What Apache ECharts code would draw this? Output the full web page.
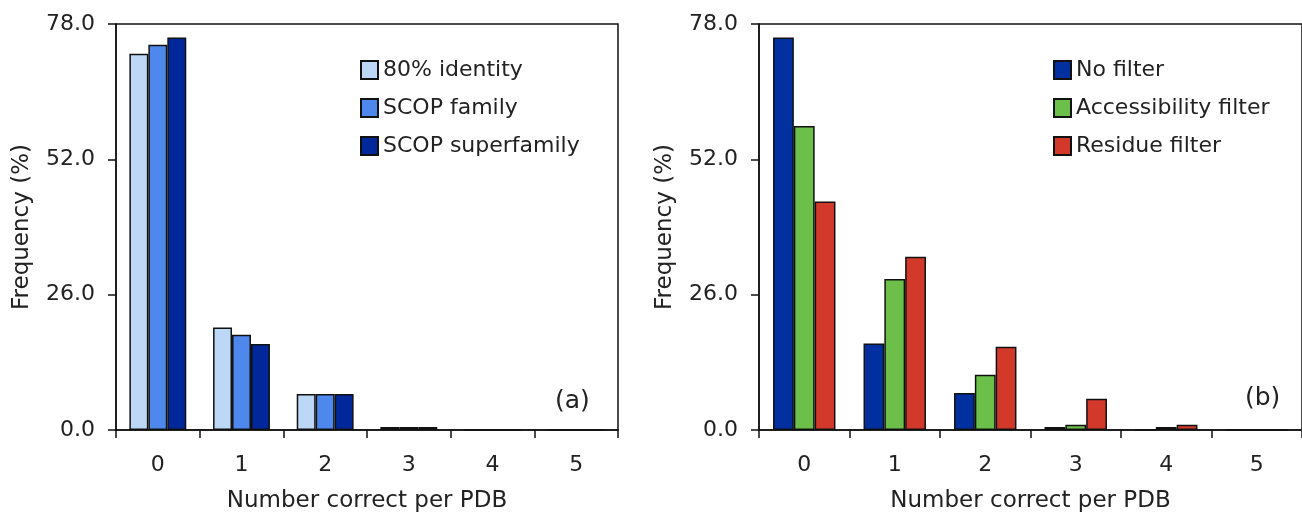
<!DOCTYPE html>
<html>
<head>
<meta charset="utf-8">
<script src="https://cdn.jsdelivr.net/npm/echarts@6/dist/echarts.min.js"></script>
<style>html,body{margin:0;padding:0;background:#fff}#c{width:1302px;height:518px}</style>
</head>
<body>
<div id="c"></div>
<script>
const categories = ['0', '1', '2', '3', '4', '5'];
const yTicks = [0, 26, 52, 78];

const namesA = ['80% identity', 'SCOP family', 'SCOP superfamily'];
const identity80 = [72.3, 19.7, 6.9, 0.6, 0, 0];
const scopFamily = [74.0, 18.3, 6.9, 0.6, 0, 0];
const scopSuperfamily = [75.4, 16.5, 6.9, 0.6, 0, 0];

const namesB = ['No filter', 'Accessibility filter', 'Residue filter'];
const noFilter = [75.4, 16.6, 7.1, 0.6, 0, 0];
const accessibilityFilter = [58.4, 29.0, 10.6, 1.0, 0.6, 0];
const residueFilter = [43.9, 33.3, 16.0, 6.0, 1.0, 0];

const colorsA = ['#BCD8F6', '#4E88EC', '#00289A'];
const colorsB = ['#0030A0', '#6CC04A', '#D3392B'];

const FONT = 'DejaVu Sans';
const TXT = '#222';
const FS = 22;

function yAxis(gi) {
  return {
    type: 'value', gridIndex: gi, min: yTicks[0], max: yTicks[yTicks.length - 1], interval: 26,
    name: 'Frequency (%)', nameLocation: 'middle', nameGap: 82,
    nameTextStyle: { fontFamily: FONT, fontSize: 23, color: TXT },
    axisLine: { show: true, lineStyle: { color: '#111', width: 1.5 } },
    axisTick: { show: true, inside: false, length: 8, lineStyle: { color: '#111', width: 1.5 } },
    axisLabel: { fontFamily: FONT, fontSize: FS, color: TXT, margin: 21, formatter: v => v.toFixed(1) },
    splitLine: { show: false }
  };
}
function xAxis(gi) {
  return {
    type: 'category', gridIndex: gi, data: categories,
    name: 'Number correct per PDB', nameLocation: 'middle', nameGap: 60,
    nameTextStyle: { fontFamily: FONT, fontSize: 23, color: TXT },
    axisLine: { show: true, lineStyle: { color: '#111', width: 1.5 } },
    axisTick: { show: true, length: 8, alignWithLabel: false, lineStyle: { color: '#111', width: 1.5 } },
    axisLabel: { fontFamily: FONT, fontSize: FS, color: TXT, margin: 24 }
  };
}
function bar(name, data, color, gi, gap) {
  return {
    type: 'bar', name, data, xAxisIndex: gi, yAxisIndex: gi,
    barGap: '0%', barCategoryGap: gap,
    itemStyle: { color, borderColor: '#111', borderWidth: 1.5 },
    emphasis: { disabled: true }, animation: false
  };
}
function legend(names, left) {
  return {
    data: names, orient: 'vertical', left, top: 54, itemWidth: 17, itemHeight: 18, itemGap: 16,
    icon: 'rect', textStyle: { fontFamily: FONT, fontSize: FS, color: TXT },
    selectedMode: false
  };
}

const chart = echarts.init(document.getElementById('c'), null, { renderer: 'canvas' });
chart.setOption({
  animation: false,
  backgroundColor: '#fff',
  grid: [
    { left: 116, top: 24, width: 502, height: 412, show: true, borderColor: '#111', borderWidth: 1.5, backgroundColor: 'transparent' },
    { left: 759, top: 24, width: 552, height: 412, show: true, borderColor: '#111', borderWidth: 1.5, backgroundColor: 'transparent' }
  ],
  xAxis: [xAxis(0), xAxis(1)],
  yAxis: [yAxis(0), yAxis(1)],
  legend: [legend(namesA, 355), legend(namesB, 1048)],
  series: [
    bar(namesA[0], identity80, colorsA[0], 0, '32%'),
    bar(namesA[1], scopFamily, colorsA[1], 0, '32%'),
    bar(namesA[2], scopSuperfamily, colorsA[2], 0, '32%'),
    bar(namesB[0], noFilter, colorsB[0], 1, '31%'),
    bar(namesB[1], accessibilityFilter, colorsB[1], 1, '31%'),
    bar(namesB[2], residueFilter, colorsB[2], 1, '31%')
  ],
  graphic: [
    { type: 'text', left: 555, top: 389, style: { text: '(a)', fontFamily: FONT, fontSize: 25, fill: TXT } },
    { type: 'text', left: 1245, top: 386, style: { text: '(b)', fontFamily: FONT, fontSize: 25, fill: TXT } }
  ]
});
</script>
</body>
</html>
